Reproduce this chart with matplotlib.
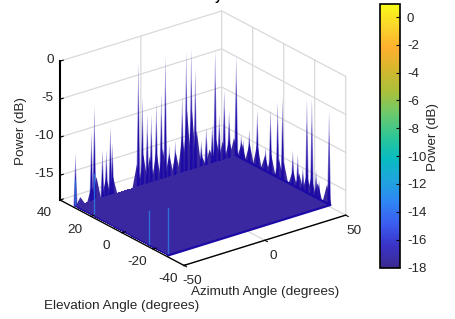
import numpy as np
import matplotlib
matplotlib.use("Agg")
import matplotlib.pyplot as plt
from matplotlib.colors import LinearSegmentedColormap, Normalize
from matplotlib.cm import ScalarMappable
from mpl_toolkits.mplot3d.art3d import Poly3DCollection

plt.rcParams['font.family'] = ['Liberation Sans', 'DejaVu Sans']
plt.rcParams['axes.unicode_minus'] = False

# ticks
az_ticks = [-50, 0, 50]
el_ticks = [-40, -20, 0, 20, 40]
z_ticks = [-15, -10, -5, 0]
cbar_ticks = [0, -2, -4, -6, -8, -10, -12, -14, -16, -18]

# spikes along the el=+30 edge
back_az = [-50, -40.1, -38.3, -33.3, -30.9, -28.4, -27.2, -11.1, -8.6, -5.6, -3.1, 0, 3.1, 5.6, 8,
           11.7, 16, 18.5, 21.6, 24.1, 27.8, 30.9, 34.6, 36.4, 38.9, 42, 45, 49.4]
back_peak = [-11, -8.8, -5.6, -11.7, -11.8, -8.9, -11.2, -1.6, -6.4, -8.9, -9.1, -7.7, -6.6, -1.9, -13.7,
             -13.5, -7.8, -2.2, -2, -4.8, -14.5, -13, -12.8, -3.2, -11.8, -8.8, -11.7, -4.8]
# spikes along the az=+50 edge
right_el = [27.4, 26.1, 22.2, 17, 11.7, 8.5, 3.9, 0.7, -5.9, -9.1, -12.4, -15, -18.2, -20.9, -22.8, -29.3]
right_peak = [-14.9, -15.5, -13.7, -10.5, -14.9, -9.4, -8, -7.2, -13.4, -13.6, -14.9, -5.6, -5.2,
              -14.4, -15.5, -5.6]
# wider low skirts under the spike clusters
skirt_az = [-47, -40, -37, -31, -27, -12, -8, -4, 0, 4, 8, 12, 16, 19, 22, 25, 28, 33, 37, 41, 45, 48]
skirt_peak = [-17, -16, -15, -15.5, -15.5, -15, -14, -14.5, -14, -14, -15, -15, -13, -10, -10, -13,
              -16.5, -16, -15, -15.5, -15.5, -15.5]
skirt_el = [27, 22, 17, 12, 8, 3, 0, -6, -10, -15, -18, -22, -28]
skirt_el_peak = [-16, -15.5, -15, -16, -15.5, -15.5, -15.5, -16, -16, -15.5, -15.5, -16, -15.5]
# light lines on the az=-50 edge
front_el = [30, 18, -17.6, -30]
front_peak = [-14.5, -12.5, -13.5, -11.8]

# surface extent
floor_az = [-50, 50]
floor_el = [-30, 30]
floor_level = -18

parula = LinearSegmentedColormap.from_list("parula", [
    "#3b2a8f", "#3a33c8", "#3b5cf0", "#2f86f5", "#1ea5dc", "#08bcc0", "#2fc795",
    "#6cc96c", "#a8c03c", "#d4b82e", "#fdb02e", "#fbd42c", "#f9fb15"])

zmin = -18.25
spike_col = "#1c0aa6"
grid_col = "#d9d9d9"

fig = plt.figure(figsize=(4.55, 3.19), dpi=100)
side = 320
ax = fig.add_axes([(198.5 - side / 2) / 455, (319 - 142.5 - side / 2) / 319, side / 455, side / 319],
                  projection='3d', proj_type='ortho', computed_zorder=False)
ax.set_xlim(-50, 50, view_margin=0)
ax.set_ylim(-40, 40, view_margin=0)
ax.set_zlim(zmin, 0, view_margin=0)
ax.view_init(elev=23.9, azim=-127.5)
ax.set_box_aspect((205.5, 205.3, 153), zoom=0.988)
ax.set_xticks([])
ax.set_yticks([])
ax.set_zticks([])
ax.set_axis_off()
ax.patch.set_alpha(0)

# grid on the walls and the floor
for z in z_ticks:
    ax.plot([-50, 50, 50], [40, 40, -40], [z, z, z], color=grid_col, lw=0.9, zorder=1)
for a in az_ticks[1:]:
    ax.plot([a, a, a], [-40, 40, 40], [zmin, zmin, 0], color=grid_col, lw=0.9, zorder=1)
for e in el_ticks[:-1]:
    ax.plot([-50, 50, 50], [e, e, e], [zmin, zmin, 0], color=grid_col, lw=0.9, zorder=1)
ax.plot([-50, 50], [40, 40], [zmin, zmin], color=grid_col, lw=0.9, zorder=1)

# surface floor
X, Y = np.meshgrid(floor_az, floor_el)
Z = np.full(X.shape, floor_level, dtype=float)
ax.plot_surface(X, Y, Z, color="#3a28a0", shade=False, linewidth=0, antialiased=False, zorder=4)


def triangle(a, e, peak, hw, along_az):
    if along_az:
        return [(a - hw, e, floor_level), (a + hw, e, floor_level), (a, e, peak)]
    return [(a, e - hw, floor_level), (a, e + hw, floor_level), (a, e, peak)]


def add_spikes(positions, peaks, along_az):
    haze, core = [], []
    for p, peak in zip(positions, peaks):
        a, e = (p, 30) if along_az else (50, p)
        haze.append(triangle(a, e, peak, 1.3, along_az))
        core.append(triangle(a, e, peak - 0.25 * (peak - floor_level), 0.8, along_az))
    ax.add_collection3d(Poly3DCollection(haze, facecolor=spike_col, edgecolor='none', alpha=0.45, zorder=3))
    ax.add_collection3d(Poly3DCollection(core, facecolor=spike_col, edgecolor='none', zorder=3))


def add_skirt(positions, peaks, along_az):
    polys = []
    for p, peak in zip(positions, peaks):
        a, e = (p, 30) if along_az else (50, p)
        polys.append(triangle(a, e, peak, 2.8, along_az))
    ax.add_collection3d(Poly3DCollection(polys, facecolor="#3a28a0", edgecolor='none', zorder=3))


add_skirt(skirt_az, skirt_peak, True)
add_skirt(skirt_el, skirt_el_peak, False)
add_spikes(back_az, back_peak, True)
add_spikes(right_el, right_peak, False)

# light lines at the front left edge
norm = Normalize(-18, 0.9)
for e, peak in zip(front_el, front_peak):
    ax.plot([-50, -50], [e, e], [floor_level, peak], color=parula(norm(-13)), lw=1.0, alpha=0.7, zorder=5)

# darker edge of the surface
ax.plot([-50, 50, 50], [-30, -30, 30], [floor_level] * 3, color="#1c0aa6", lw=1.6, zorder=5)
ax.plot([-50, -50], [-30, 30], [floor_level] * 2, color="#1c0aa6", lw=0.8, zorder=5)

# axis lines
ax.plot([-50, -50], [40, 40], [zmin, 0], color='k', lw=1.5, zorder=6)
ax.plot([-50, 50], [-40, -40], [zmin, zmin], color='k', lw=1.0, zorder=6)
ax.plot([-50, -50], [-40, 40], [zmin, zmin], color='k', lw=1.0, zorder=6)

txt = dict(color="#262626", fontsize=9.7)
for a in az_ticks:
    ax.plot([a, a], [-40, -41.6], [zmin, zmin], color='k', lw=0.8, zorder=6)
    ax.text(a, -45.5, zmin - 1.5, str(a), ha='center', va='center', **txt)
for e in el_ticks:
    ax.plot([-50, -48], [e, e], [zmin, zmin], color='k', lw=0.8, zorder=6)
    ax.text(-60, e, zmin - 1.1, str(e), ha='center', va='center', **txt)
for z in z_ticks:
    ax.plot([-50, -48], [40, 40], [z, z], color='k', lw=0.8, zorder=6)
    ax.text(-54, 40, z + 0.4, str(z), ha='right', va='center', **txt)

fig.text(21 / 455, 1 - 131 / 319, "Power (dB)", rotation=90, ha='center', va='center', **txt)
fig.text(265 / 455, 1 - 292 / 319, "Azimuth Angle (degrees)", ha='center', va='center', **txt)
fig.text(122 / 455, 1 - 306 / 319, "Elevation Angle (degrees)", ha='center', va='center', **txt)
# bottom of the cropped title
fig.text(218 / 455, 1 + 3 / 319, "y", ha='center', va='center', color='k', fontsize=9, fontweight='bold')

# colorbar
cax = fig.add_axes([380 / 455, 1 - 268 / 319, 20 / 455, 264 / 319])
cb = fig.colorbar(ScalarMappable(norm=Normalize(-18.05, 0.94), cmap=parula), cax=cax)
cb.set_ticks(cbar_ticks)
cb.ax.tick_params(direction='in', length=3, width=0.8, labelsize=9.5, colors='k', labelcolor="#262626", pad=5)
cb.outline.set_linewidth(1.2)
fig.text(433 / 455, 1 - 137 / 319, "Power (dB)", rotation=90, ha='center', va='center', **txt)

fig.savefig("out.png", dpi=100)
